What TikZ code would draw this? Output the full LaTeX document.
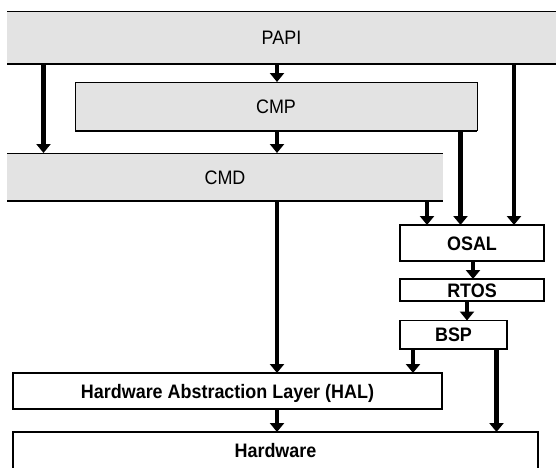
\documentclass[tikz,border=0pt]{standalone}
\usepackage{fontspec}
\setmainfont{Liberation Sans}[FakeStretch=0.92]
\usetikzlibrary{arrows.meta}
\definecolor{boxgray}{HTML}{E3E3E3}
\tikzset{
  layer/.style={fill=boxgray, inner sep=0pt, outer sep=0pt, anchor=north west,
    text height=14pt, text depth=0pt, font=\fontsize{19.5}{21}\selectfont},
  plain/.style={draw=black, line width=1.8pt, fill=white, inner sep=0pt, outer sep=0pt,
    anchor=north west, text height=14pt, text depth=0pt,
    font=\bfseries\fontsize{19.5}{21}\selectfont},
  thinline/.style={line width=1pt},
  thickline/.style={line width=2.5pt},
  arr/.style={line width=4.2pt, -{Triangle[width=14pt,length=9pt]}},
}
\begin{document}
\begin{tikzpicture}[x=1pt,y=-1pt]
\useasboundingbox (0,0) rectangle (556,467);
% layers
\node[layer, minimum width=549pt, minimum height=53pt] (papi) at (7,11) {PAPI};
\draw[thinline] (papi.north west) -- (papi.north east);
\draw[thickline] (papi.south west) -- (papi.south east);

\node[layer, minimum width=402pt, minimum height=49pt] (cmp) at (75,82) {CMP};
\draw[thinline] (cmp.south west) -- (cmp.north west) -- (cmp.north east) -- (cmp.south east);
\draw[thickline] (cmp.south west) -- (cmp.south east);

\node[layer, minimum width=436pt, minimum height=48pt] (cmd) at (7,153) {CMD};
\draw[thinline] (cmd.north west) -- (cmd.north east);
\draw[thickline] (cmd.south west) -- (cmd.south east);

\node[plain, minimum width=144pt, minimum height=36pt] (osal) at (400,225) {OSAL};
\node[plain, minimum width=144pt, minimum height=22pt] (rtos) at (400,279) {RTOS};
\node[plain, minimum width=107pt, minimum height=28.5pt] (bsp) at (400,320.5) {BSP};
\node[plain, minimum width=429pt, minimum height=36pt] (hal) at (13,373) {Hardware Abstraction Layer (HAL)};
\node[plain, draw=none, minimum width=525pt, minimum height=36pt] (hw) at (13,432) {Hardware};
\draw[line width=1.8pt] (hw.south west) -- (hw.north west) -- (hw.north east) -- (hw.south east);

% connector columns
\coordinate (xa) at (43.5,0);
\coordinate (xb) at (277,0);
\coordinate (xc) at (427,0);
\coordinate (xd) at (460.5,0);
\coordinate (xe) at (514,0);
\coordinate (xf) at (473,0);
\coordinate (xg) at (467,0);
\coordinate (xh) at (413,0);
\coordinate (xi) at (496.5,0);

\draw[arr] (papi.south -| xb) -- (cmp.north -| xb);
\draw[arr] (papi.south -| xa) -- (cmd.north -| xa);
\draw[arr] (papi.south -| xe) -- (osal.north -| xe);
\draw[arr] (cmp.south -| xb) -- (cmd.north -| xb);
\draw[arr] (cmp.south -| xd) -- (osal.north -| xd);
\draw[arr] (cmd.south -| xc) -- (osal.north -| xc);
\draw[arr] (cmd.south -| xb) -- (hal.north -| xb);
\draw[arr] (osal.south -| xf) -- (rtos.north -| xf);
\draw[arr] (rtos.south -| xg) -- (bsp.north -| xg);
\draw[arr] (bsp.south -| xh) -- (hal.north -| xh);
\draw[arr] (bsp.south -| xi) -- (hw.north -| xi);
\draw[arr] (hal.south -| xb) -- (hw.north -| xb);
\end{tikzpicture}
\end{document}
